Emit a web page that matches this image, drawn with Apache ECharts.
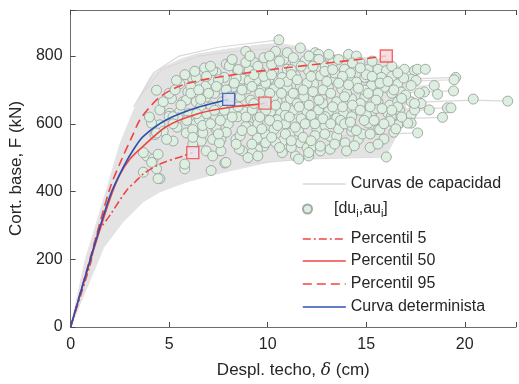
<!DOCTYPE html>
<html><head><meta charset="utf-8">
<script src="https://cdn.jsdelivr.net/npm/echarts@6/dist/echarts.min.js"></script>
<style>html,body{margin:0;padding:0;background:#fff}#c{width:519px;height:384px}</style>
</head><body><div id="c"></div>
<script>
// ---------- data ----------
const xTicks = [0, 5, 10, 15, 20];
const yTicks = [0, 200, 400, 600, 800];

// endpoints [du_i, au_i]
const du = [5.54,6.2,5.12,7.05,7.38,7.9,5.95,6.46,6.88,7.21,7.55,5.7,6.37,6.88,5.03,5.54,7.13,3.86,3.69,4.19,4.36,4.53,3.69,5.79,7.13,7.83,
 5.0,5.45,4.53,4.7,5.2,4.28,4.44,4.11,4.44,6.88,7.63,7.21,6.63,7.38,6.37,6.88,7.72,5.87,6.2,6.71,7.63,5.79,
 10.57,11.66,10.4,8.89,9.81,10.82,12.41,8.14,9.31,11.4,11.9,8.47,9.06,9.65,10.3,10.99,7.8,8.72,9.4,10.07,10.74,11.41,12.08,12.67,8.3,8.97,9.65,10.32,10.99,11.66,12.33,9.14,10.48,11.16,11.83,12.5,8.81,10.65,11.32,12.0,12.58,10.15,
 8.47,9.06,8.39,9.48,9.81,8.72,9.48,10.82,10.74,11.41,11.66,12.0,12.33,11.16,11.57,10.32,9.9,12.25,12.5,7.88,12.08,10.48,9.48,
 12.58,13.17,14.1,14.5,14.68,12.92,13.9,15.1,15.6,16.02,16.94,17.45,13.42,14.26,14.93,15.77,12.67,13.08,13.76,14.51,15.26,15.94,16.6,16.77,12.75,13.5,14.26,14.93,15.6,16.19,16.6,17.28,13.08,13.84,14.5,15.26,16.1,16.69,17.28,
 12.92,13.5,14.26,15.01,15.6,16.69,17.28,13.17,13.93,12.67,13.17,14.6,14.26,16.02,13.67,17.61,
 17.6,18.0,19.54,19.46,17.28,17.53,18.45,17.28,19.43,18.62,17.95,17.7,20.43,22.18,17.78,18.2,19.12,19.3,17.45,18.87,17.11,16.6,17.45,16.6,15.69,
 12.08,11.57,10.74,9.9,12.67,13.5,16.27,15.1,14.26,
 5.87,8.22,9.06,5.2,6.54,7.38,8.89,9.22,8.22,7.55,8.56,4.87,4.36,7.21,9.22,4.36,6.37,7.21,8.05,8.89,5.37,4.53,4.11,4.0,
 8.0,8.6,9.7,10.3,10.9,11.5,12.1,12.8,9.5,10.1,10.9,11.7,12.9,13.6,8.0,8.6,10.4,11.2,9.2,13.8,14.7,15.5,14.0,14.9,15.6,16.3,13.4,14.2,15.0,16.3,16.9,13.3,15.3,10.2,11.2,12.4,9.9,11.0,12.0,13.0,8.4,7.3,6.1,6.6,7.7,6.0,6.9,7.9,6.2,5.4,5.0,4.7,6.8,7.5,
 14.8,15.9,16.4,15.2,14.0,12.4,16.2,17.0,9.0,
 5.3,5.6,5.9,5.2,5.8,6.1,6.3,6.5,6.4,6.7,6.9,6.6,6.2,7.1,7.4,7.0,7.3,7.6,7.9,7.8,7.1,7.5,
 8.2,8.5,8.3,8.7,8.1,8.5,8.9,8.2,8.7,8.4,9.1,9.5,9.3,9.8,9.2,9.6,9.3,9.9,9.6,9.2,9.7,9.5,
 10.1,10.6,10.2,10.6,10.1,10.7,10.4,10.9,10.5,10.9,10.2,10.6,11.0,11.3,11.7,11.2,11.5,11.8,11.3,11.6,11.1,11.9,11.4,11.8,11.2,
 12.1,12.6,12.3,12.9,12.2,12.8,12.3,12.6,12.2,12.8,12.4,12.9,12.2,13.1,13.6,13.3,13.8,13.2,13.6,13.9,13.3,13.7,13.2,13.9,13.4,
 14.3,14.7,14.1,14.6,14.3,14.7,14.2,14.9,14.5,14.4,15.3,15.7,15.1,15.5,15.2,15.8,15.4,15.9,15.2,15.6,16.3,16.6,16.1,16.4,16.8,16.3,16.8,16.5];
const au = [718,732,674,747,752,776,694,689,713,728,703,665,665,679,631,636,650,505,515,496,467,438,457,467,462,484,
 622,617,597,578,549,568,510,486,438,520,520,554,549,583,602,612,621,573,583,573,554,481,
 848,824,814,814,795,790,810,781,781,781,786,757,757,752,757,761,737,732,728,732,737,742,757,766,708,703,699,703,708,713,718,670,665,674,679,684,636,631,641,636,641,636,
 621,592,554,558,534,520,525,525,549,505,544,529,534,573,578,583,568,612,583,486,505,612,617,
 805,795,805,800,781,771,761,761,761,757,761,757,732,728,737,737,742,708,703,723,713,708,718,694,674,665,674,679,665,655,665,665,636,631,641,626,631,641,626,
 621,617,621,626,583,602,602,563,544,520,525,554,578,502,597,573,
 761,761,737,730,732,728,713,713,697,687,694,691,673,667,660,641,647,647,641,619,602,650,660,597,583,
 515,496,515,544,534,563,621,602,592,
 670,708,728,621,612,592,592,641,641,544,525,554,573,505,515,699,737,757,771,781,728,641,602,620,
 660,680,660,680,650,660,655,660,600,610,600,615,595,585,600,565,545,530,540,650,660,645,690,700,690,690,750,750,745,740,735,780,785,775,760,790,720,725,720,725,735,690,710,650,665,630,630,575,540,590,690,665,765,730,
 570,555,575,530,520,565,608,685,500,
 700,655,610,600,745,690,755,700,630,595,740,672,560,770,710,690,640,610,700,640,600,570,
 790,760,720,700,680,650,620,620,580,540,800,770,745,740,710,690,660,640,620,580,585,505,
 800,785,745,720,690,690,655,625,595,570,560,530,810,795,770,745,730,700,690,650,620,600,590,560,550,
 800,790,770,755,740,700,695,670,625,615,600,570,550,805,790,760,740,690,720,680,650,610,600,600,540,
 780,765,715,705,655,640,605,610,580,535,740,720,690,670,650,645,610,600,570,540,770,750,725,700,675,640,620,585];

// percentile / deterministic curves
const p5X = [0,1,1.34,2.01,2.85,3.27,3.69,4.53,5.7,6.2];
const p5Y = [0,186,273,331,404,428,452,481,505,515];
const p50X = [0,1,2.01,2.5,3.0,3.52,4.87,6.54,8.22,9.56,9.86];
const p50Y = [0,196,380,450,495,525,592,631,650,658,661];
const p95X = [0,1,2.0,2.6,3.1,3.52,4.03,4.53,5.2,5.87,6.63,7.97,10.3,12.5,14.6,16.02];
const p95Y = [0,205,410,496,560,612,650,679,703,718,729,742,761,776,790,800];
const detX = [0,1,2.01,2.7,3.2,3.69,4.87,6.54,8.02];
const detY = [0,200,389,475,525,563,612,650,672];

// capacity-curve band (upper envelope then lower envelope back)
const bandX = [0,0.75,1.85,2.5,3.2,3.52,4.03,4.7,5.54,6.37,7.9,9.6,10.6,11.7,12.6,14,16,17,17,16.5,16,12.8,10.3,8,7.05,5.87,4.53,3.69,2.68,1.68,1];
const bandY = [0,200,409,540,640,679,737,766,790,805,820,833,838,826,808,800,790,760,620,560,505,500,490,460,447,428,399,370,312,235,140];

// visible individual capacity curves (tails)
const curveSets = [
 [[12,650],[16,660],[20.43,670],[22.18,667]],
 [[13,722],[17,732],[19.54,737]],
 [[13,718],[17,726],[19.46,730]],
 [[14,686],[17,692],[19.43,697]],
 [[14,703],[18.45,713]],
 [[13,636],[17,644],[19.3,647]],
 [[13,606],[16,614],[18.87,619]],
 [[12,560],[15,568],[17.61,573]],
 [[9,482],[12,496],[16.02,502]],
 [[14,632],[18.2,641]],
 [[14,752],[18.0,761]],
 [[14,652],[17.78,660]],
 [[14,748],[17.6,761]],
 [[3.2,650],[4.2,750],[5.5,800],[7.5,826],[10.57,848]],
 [[3.4,670],[4.6,760],[6.5,800],[9,818],[11.66,824]]
];

// ---------- chart ----------
const zip = (xs, ys) => xs.map((x, i) => [x, ys[i]]);
const bandPts = zip(bandX, bandY);
const curveData = [];
curveSets.forEach(c => { c.forEach(p => curveData.push(p)); curveData.push(['-', '-']); });

const RED = '#f04545', BLUE = '#2c4fb0';
const FONT = 'Liberation Sans, Arial, Helvetica, sans-serif';
const chart = echarts.init(document.getElementById('c'), null, {renderer: 'canvas'});

const axisCommon = {
  type: 'value',
  axisLine: {show: true, lineStyle: {color: '#6e6e6e', width: 1}},
  axisTick: {show: true, inside: true, length: 5, lineStyle: {color: '#4a4a4a'}},
  splitLine: {show: false},
};

function legendAt(name, cy, extra) {
  return Object.assign({
    data: [name], left: 302, top: cy - 9, itemWidth: 43, itemHeight: 14, itemGap: 0,
    selectedMode: false, padding: 0,
    itemStyle: {opacity: 0},
    lineStyle: {width: 1.6},
    textStyle: {fontSize: 16, color: '#262626', fontFamily: FONT,
      rich: {s: {fontSize: 11, color: '#262626', fontFamily: FONT, padding: [10, 0, 0, 0]}}},
    formatter: n => n === '[du_i,au_i]' ? '[du{s|i},au{s|i}]' : n
  }, extra || {});
}

chart.setOption({
  animation: false,
  grid: {left: 70, top: 10, width: 449, height: 321},
  xAxis: [
    Object.assign({}, axisCommon, {
      min: 0, max: 22.6, interval: 5, position: 'bottom',
      axisLabel: {fontSize: 16, color: '#262626', fontFamily: FONT, margin: 10,
        formatter: v => xTicks.includes(v) ? String(v) : ''},
      name: '{n|Despl. techo, }{d|δ}{n| (cm)}', nameLocation: 'middle', nameGap: 35,
      nameTextStyle: {rich: {n: {fontSize: 17, color: '#262626', fontFamily: FONT},
        d: {fontSize: 17, color: '#262626', fontFamily: 'DejaVu Serif, serif', fontStyle: 'italic'}}}
    }),
    Object.assign({}, axisCommon, {
      min: 0, max: 22.6, interval: 5, position: 'top', axisLabel: {show: false},
      axisTick: {show: true, inside: true, length: 5, lineStyle: {color: '#4a4a4a'}}
    })
  ],
  yAxis: [Object.assign({}, axisCommon, {
    min: 0, max: 936, interval: 200,
    axisLabel: {fontSize: 16, color: '#262626', fontFamily: FONT, margin: 8,
      formatter: v => yTicks.includes(v) ? String(v) : ''},
    name: 'Cort. base, F (kN)', nameLocation: 'middle', nameGap: 34, nameRotate: 90,
    nameTextStyle: {fontSize: 17, color: '#262626', fontFamily: FONT}
  })],
  legend: [
    legendAt('Curvas de capacidad', 185),
    legendAt('[du_i,au_i]', 210, {itemHeight: 9, itemStyle: {}}),
    legendAt('Percentil 5', 240),
    legendAt('Percentil 50', 262),
    legendAt('Percentil 95', 285),
    legendAt('Curva determinista', 308)
  ],
  series: [
    {type: 'custom', silent: true, z: 1, data: [[0, 0]], clip: true,
      renderItem: (params, api) => ({type: 'polygon',
        shape: {points: bandPts.map(p => api.coord(p))},
        style: {fill: '#e3e3e3', stroke: '#e3e3e3'}})},
    {name: 'Curvas de capacidad', type: 'line', z: 2, data: curveData, symbol: 'none',
      connectNulls: false, lineStyle: {color: '#d9d9d9', width: 1.2}, itemStyle: {color: '#d9d9d9'}},
    {name: '[du_i,au_i]', type: 'scatter', z: 3, data: zip(du, au), symbol: 'circle', symbolSize: 10,
      itemStyle: {color: '#dcefe1', borderColor: '#a4a9a5', borderWidth: 1, opacity: 1}},
    {name: 'Percentil 5', type: 'line', z: 5, data: zip(p5X, p5Y), symbol: 'none', smooth: 0.3,
      lineStyle: {color: RED, width: 1.6, type: [8, 3, 2, 3]}, itemStyle: {color: RED}},
    {name: 'Percentil 50', type: 'line', z: 5, data: zip(p50X, p50Y), symbol: 'none', smooth: 0.3,
      lineStyle: {color: RED, width: 1.6}, itemStyle: {color: RED}},
    {name: 'Percentil 95', type: 'line', z: 5, data: zip(p95X, p95Y), symbol: 'none', smooth: 0.3,
      lineStyle: {color: RED, width: 1.6, type: [9, 5]}, itemStyle: {color: RED}},
    {name: 'Curva determinista', type: 'line', z: 5, data: zip(detX, detY), symbol: 'none', smooth: 0.3,
      lineStyle: {color: BLUE, width: 1.6}, itemStyle: {color: BLUE}},
    {type: 'scatter', z: 6, symbol: 'rect', symbolSize: 12, silent: true,
      data: [
        {value: [p5X[p5X.length-1], p5Y[p5Y.length-1]], itemStyle: {color: '#ece4ee', borderColor: RED}},
        {value: [p50X[p50X.length-1], p50Y[p50Y.length-1]], itemStyle: {color: '#e2e2e2', borderColor: RED}},
        {value: [p95X[p95X.length-1], p95Y[p95Y.length-1]], itemStyle: {color: '#f8d6d8', borderColor: RED}},
        {value: [detX[detX.length-1], detY[detY.length-1]], itemStyle: {color: '#dfe0f2', borderColor: BLUE}}
      ],
      itemStyle: {borderWidth: 1.4}}
  ]
});
</script></body></html>
